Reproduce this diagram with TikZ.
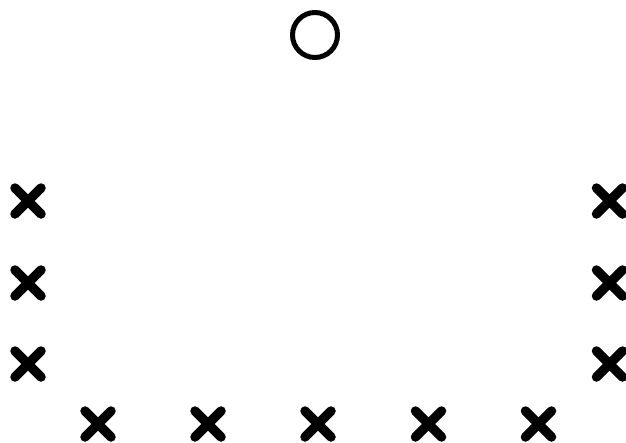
\documentclass[tikz,border=0pt]{standalone}
\usetikzlibrary{shapes.misc}
\begin{document}
\begin{tikzpicture}[x=1pt,y=-1pt,
  xmark/.style={cross out, draw=black, line width=9.5pt, line cap=round, minimum size=26pt, inner sep=0pt, outer sep=0pt},
  omark/.style={circle, draw=black, line width=5pt, minimum size=45pt, inner sep=0pt}]
\useasboundingbox (0,0) rectangle (626,442);
\node[omark] (o) at (315,35) {};
\node[xmark] (l1) at (28,201) {};
\node[xmark] (l2) at (28,283) {};
\node[xmark] (l3) at (28,364) {};
\node[xmark] (r1) at (609.5,201) {};
\node[xmark] (r2) at (609.5,283) {};
\node[xmark] (r3) at (609.5,364) {};
\node[xmark] (b1) at (98,424) {};
\node[xmark] (b2) at (208,424) {};
\node[xmark] (b3) at (318,424) {};
\node[xmark] (b4) at (428.5,424) {};
\node[xmark] (b5) at (538.5,424) {};
\end{tikzpicture}
\end{document}
